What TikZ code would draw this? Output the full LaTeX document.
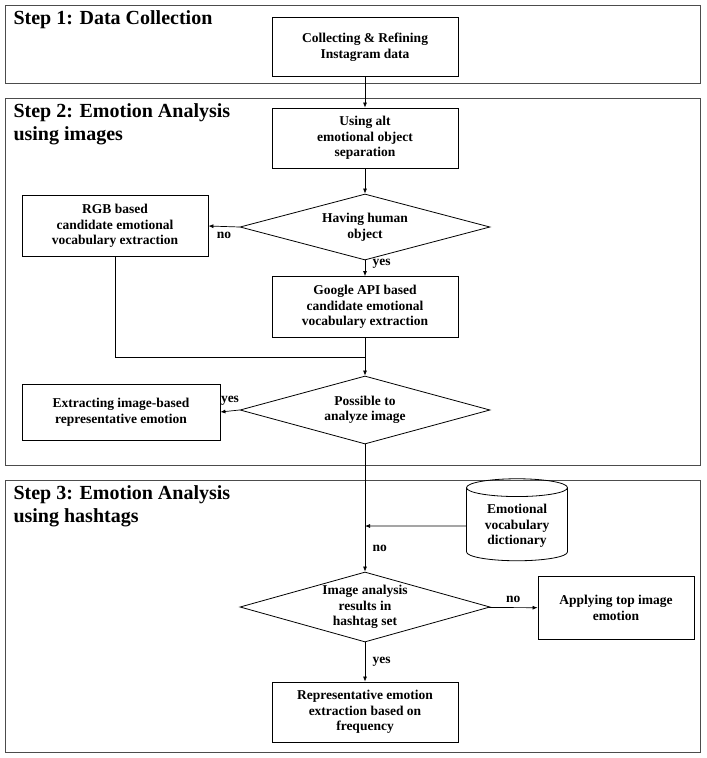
\documentclass[tikz,border=0pt]{standalone}
\usepackage{fontspec}
\setmainfont{Liberation Serif}
\usetikzlibrary{shapes.geometric,arrows.meta,positioning}
\tikzset{
  panel/.style={draw=black!70, line width=0.8pt},
  box/.style={draw=black, line width=0.8pt, align=center, font=\bfseries\fontsize{13.5}{15.5}\selectfont, inner sep=2pt},
  dec/.style={diamond, aspect=3.8, draw=black, line width=0.8pt, align=center, font=\bfseries\fontsize{13.5}{15.5}\selectfont, inner sep=0pt},
  db/.style={cylinder, shape border rotate=90, aspect=0.25, draw=black, line width=0.8pt, align=center, font=\bfseries\fontsize{13.5}{15.5}\selectfont, minimum width=101pt, minimum height=82pt},
  steptitle/.style={anchor=north west, align=left, font=\bfseries\fontsize{20}{23}\selectfont},
  lbl/.style={font=\bfseries\fontsize{13.5}{15.5}\selectfont},
  flow/.style={-{Latex[length=5pt,width=4pt]}, line width=0.7pt}
}
\begin{document}
\begin{tikzpicture}[x=1pt, y=-1pt]
\useasboundingbox (0,0) rectangle (707,758);
% panels
\draw[panel] (5,5) rectangle (700,83);
\draw[panel] (5,98) rectangle (700,465);
\draw[panel] (5,480) rectangle (700,752);
\node[steptitle] at (10,7) {Step 1: Data Collection};
\node[steptitle] at (10,100) {Step 2: Emotion Analysis\\using images};
\node[steptitle] at (10,482) {Step 3: Emotion Analysis\\using hashtags};
% nodes
\node[box, minimum width=186pt, minimum height=59pt] (collect) at (365,47) {Collecting \& Refining\\Instagram data};
\node[box, minimum width=186pt, minimum height=60pt] (alt) at (365,138) {Using alt\\emotional object\\separation};
\node[dec, minimum width=250pt, minimum height=66pt] (human) at (365,227) {Having human\\object};
\node[box, minimum width=186pt, minimum height=61pt] (rgb) at (115,226) {RGB based\\candidate emotional\\vocabulary extraction};
\node[box, minimum width=186pt, minimum height=61pt] (google) at (365,307) {Google API based\\candidate emotional\\vocabulary extraction};
\coordinate (merge) at (365,357);
\node[dec, minimum width=250pt, minimum height=68pt] (possible) at (365,410) {Possible to\\analyze image};
\node[box, minimum width=198pt, minimum height=56pt] (extract) at (121,412) {Extracting image-based\\representative emotion};
\node[db] (dict) at (517,526) {Emotional\\vocabulary\\dictionary};
\coordinate (join) at (365,526);
\node[dec, minimum width=250pt, minimum height=70pt] (hashset) at (365,607) {Image analysis\\results in\\hashtag set};
\node[box, minimum width=156pt, minimum height=63pt] (top) at (616,608) {Applying top image\\emotion};
\node[box, minimum width=186pt, minimum height=60pt] (rep) at (365,712) {Representative emotion\\extraction based on\\frequency};
% connectors
\draw[flow] (collect) -- (alt);
\draw[flow] (alt) -- (human);
\draw[flow] (human.west) -- node[lbl, below=2pt] {no} (rgb.east);
\draw[flow] (human) -- node[lbl, pos=0.2, right=4pt] {yes} (google);
\draw[line width=0.7pt] (rgb.south) |- (merge);
\draw[flow] (google) -- (possible);
\draw[flow] (possible.west) -- node[lbl, above=2pt] {yes} (extract.east);
\draw[line width=0.7pt] (possible.south) -- (join);
\draw[flow] (dict.west) -- (join);
\draw[flow] (join) -- node[lbl, right=4pt] {no} (hashset);
\draw[flow] (hashset) -- node[lbl, above=1pt] {no} (top);
\draw[flow] (hashset) -- node[lbl, right=4pt] {yes} (rep);
\end{tikzpicture}
\end{document}
